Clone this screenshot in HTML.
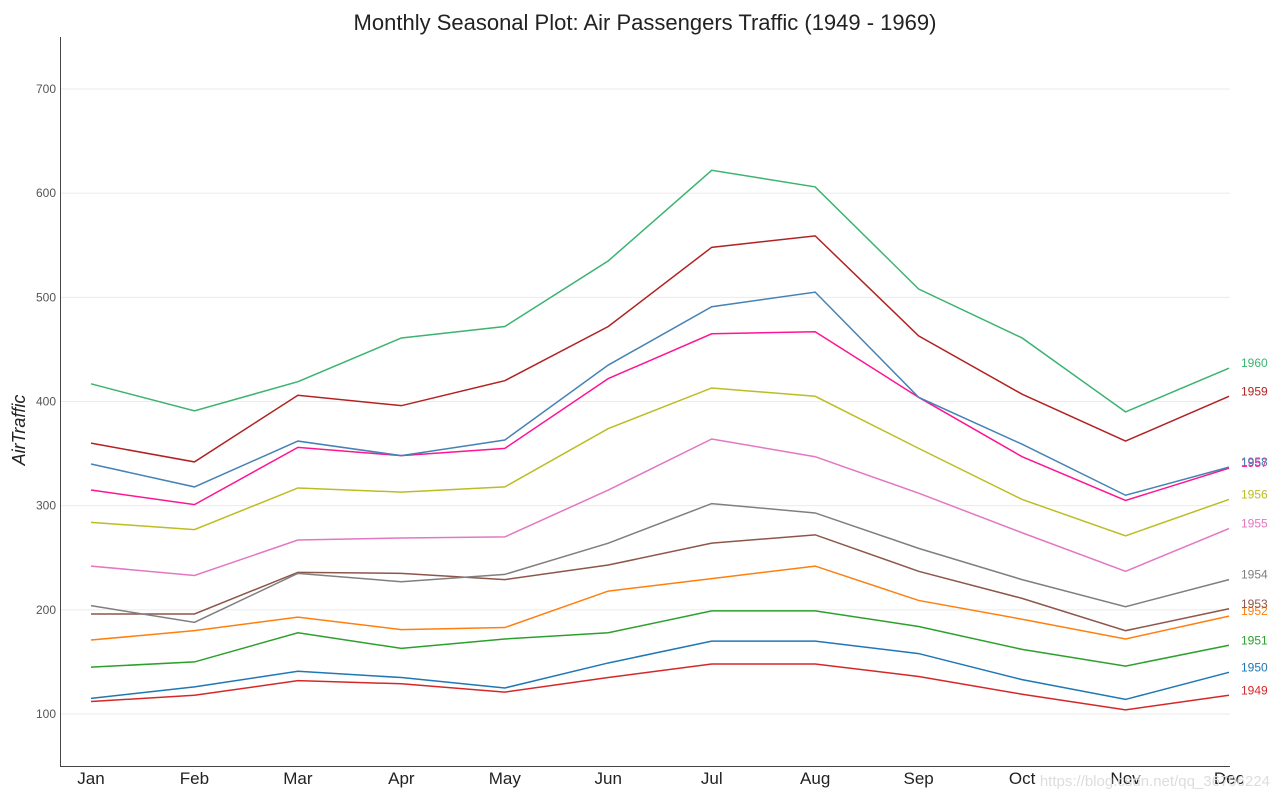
<!DOCTYPE html>
<html><head><meta charset="utf-8"><style>
body{margin:0;background:#fff;}
svg{display:block;font-family:"Liberation Sans",sans-serif;}
</style></head><body>
<svg id="chart" width="1280" height="800" xmlns="http://www.w3.org/2000/svg">
<text x="645" y="30" text-anchor="middle" font-size="22" fill="#222">Monthly Seasonal Plot: Air Passengers Traffic (1949 - 1969)</text>
<text transform="translate(25,430) rotate(-90)" text-anchor="middle" font-size="18" font-style="italic" fill="#222">AirTraffic</text>
<g id="grid"></g><g id="axes"></g><g id="lines"></g>
<text x="1270" y="786" text-anchor="end" font-size="15" fill="#ddd">https://blog.csdn.net/qq_36706224</text>
</svg>
<script>
const months=["Jan","Feb","Mar","Apr","May","Jun","Jul","Aug","Sep","Oct","Nov","Dec"];
const years=["1949","1950","1951","1952","1953","1954","1955","1956","1957","1958","1959","1960"];
const yTicks=[100,200,300,400,500,600,700];
const v1949=[112,118,132,129,121,135,148,148,136,119,104,118];
const v1950=[115,126,141,135,125,149,170,170,158,133,114,140];
const v1951=[145,150,178,163,172,178,199,199,184,162,146,166];
const v1952=[171,180,193,181,183,218,230,242,209,191,172,194];
const v1953=[196,196,236,235,229,243,264,272,237,211,180,201];
const v1954=[204,188,235,227,234,264,302,293,259,229,203,229];
const v1955=[242,233,267,269,270,315,364,347,312,274,237,278];
const v1956=[284,277,317,313,318,374,413,405,355,306,271,306];
const v1957=[315,301,356,348,355,422,465,467,404,347,305,336];
const v1958=[340,318,362,348,363,435,491,505,404,359,310,337];
const v1959=[360,342,406,396,420,472,548,559,463,407,362,405];
const v1960=[417,391,419,461,472,535,622,606,508,461,390,432];
const series=[v1949,v1950,v1951,v1952,v1953,v1954,v1955,v1956,v1957,v1958,v1959,v1960];
const colors=["#d62728","#1f77b4","#2ca02c","#ff7f0e","#8c564b","#7f7f7f","#e377c2","#bcbd22","#ff1493","#4682b4","#b22222","#3cb371"];
const NS="http://www.w3.org/2000/svg";
const x=i=>91+i*(1229-91)/11;
const y=v=>714-(v-100)*625/600;
function mk(tag,attrs,parent){const e=document.createElementNS(NS,tag);for(const k in attrs)e.setAttribute(k,attrs[k]);parent.appendChild(e);return e;}
const grid=document.getElementById('grid'),axes=document.getElementById('axes'),lines=document.getElementById('lines');
yTicks.forEach(t=>{
 const g=mk('line',{x1:60,x2:1230,y1:y(t),y2:y(t),stroke:'#ebebeb','stroke-width':1},grid);
 
 
 const tx=mk('text',{x:56,y:y(t)+4,'text-anchor':'end','font-size':12,fill:'#555'},axes);
 tx.textContent=t;
 
 
});
const ax=mk('path',{d:'M60.5 37 V766.5 H1230',stroke:'#444',fill:'none','stroke-width':1},axes);


months.forEach((m,i)=>{
 const tx=mk('text',{x:x(i),y:784,'text-anchor':'middle','font-size':17,fill:'#222'},axes);
 tx.textContent=m;
 
 
});
series.forEach((s,k)=>{
 const p=mk('polyline',{points:s.map((v,i)=>x(i)+','+y(v)).join(' '),fill:'none',stroke:colors[k],'stroke-width':1.5},lines);
 
 
 const t=mk('text',{x:1241,y:y(s[11])-1,'font-size':12,fill:colors[k]},lines);
 t.textContent=years[k];
 
 
});
</script>
</body></html>
